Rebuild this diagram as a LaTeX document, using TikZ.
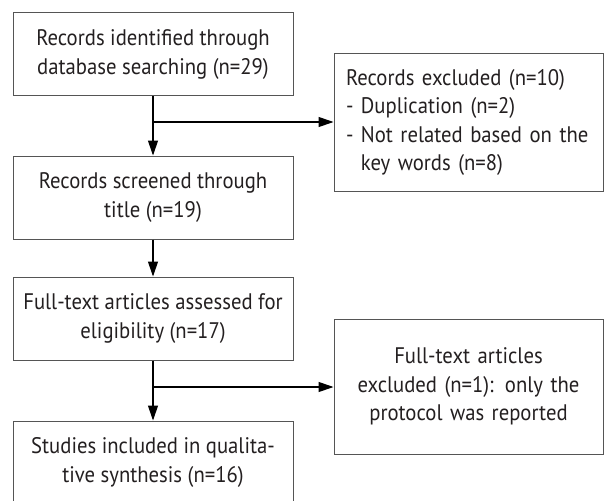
\documentclass[tikz,border=0pt]{standalone}
\usepackage{fontspec}
\setmainfont[FakeStretch=0.92]{PT Sans}
\usetikzlibrary{arrows.meta}
\definecolor{boxline}{HTML}{555555}
\definecolor{txt}{HTML}{231F20}
\tikzset{
  box/.style={draw=boxline, line width=1pt, minimum height=83pt, minimum width=280pt,
    inner sep=0pt, align=center, text=txt, font=\fontsize{22.5}{28.5}\selectfont},
  sidebox/.style={draw=boxline, line width=1pt, minimum width=269pt,
    inner ysep=0pt, inner xsep=12pt, text=txt, font=\fontsize{22.5}{28.5}\selectfont},
  arr/.style={draw=black, line width=1.1pt, -{Triangle[length=15pt,width=10pt]}}
}
\begin{document}
\begin{tikzpicture}[x=1pt,y=-1pt]
\useasboundingbox (0,0) rectangle (604,500);
\node[box] (b1) at (153,54.5) {Records identified through\\database searching (n=29)};
\node[box] (b3) at (153,197.5) {Records screened through\\title (n=19)};
\node[box] (b4) at (153,318.5) {Full-text articles assessed for\\eligibility (n=17)};
\node[box] (b5) at (153,462.5) {Studies included in qualita-\\tive synthesis (n=16)};
\node[sidebox, minimum height=137pt, text width=245pt, align=left] (b2) at (468.5,122.5)
  {Records excluded (n=10)\\- Duplication (n=2)\\- Not related based on the\\\phantom{- }key words (n=8)};
\node[sidebox, minimum height=135pt, text width=245pt, align=center] (b6) at (468.5,386.5)
  {Full-text articles\\excluded (n=1): only the\\protocol was reported};
\coordinate (j1) at (153,122);
\coordinate (j2) at (153,387);
\draw[arr] (b1) -- (b3);
\draw[arr] (b3) -- (b4);
\draw[arr] (b4) -- (b5);
\draw[arr] (j1) -- (j1 -| b2.west);
\draw[arr] (j2) -- (j2 -| b6.west);
\end{tikzpicture}
\end{document}
